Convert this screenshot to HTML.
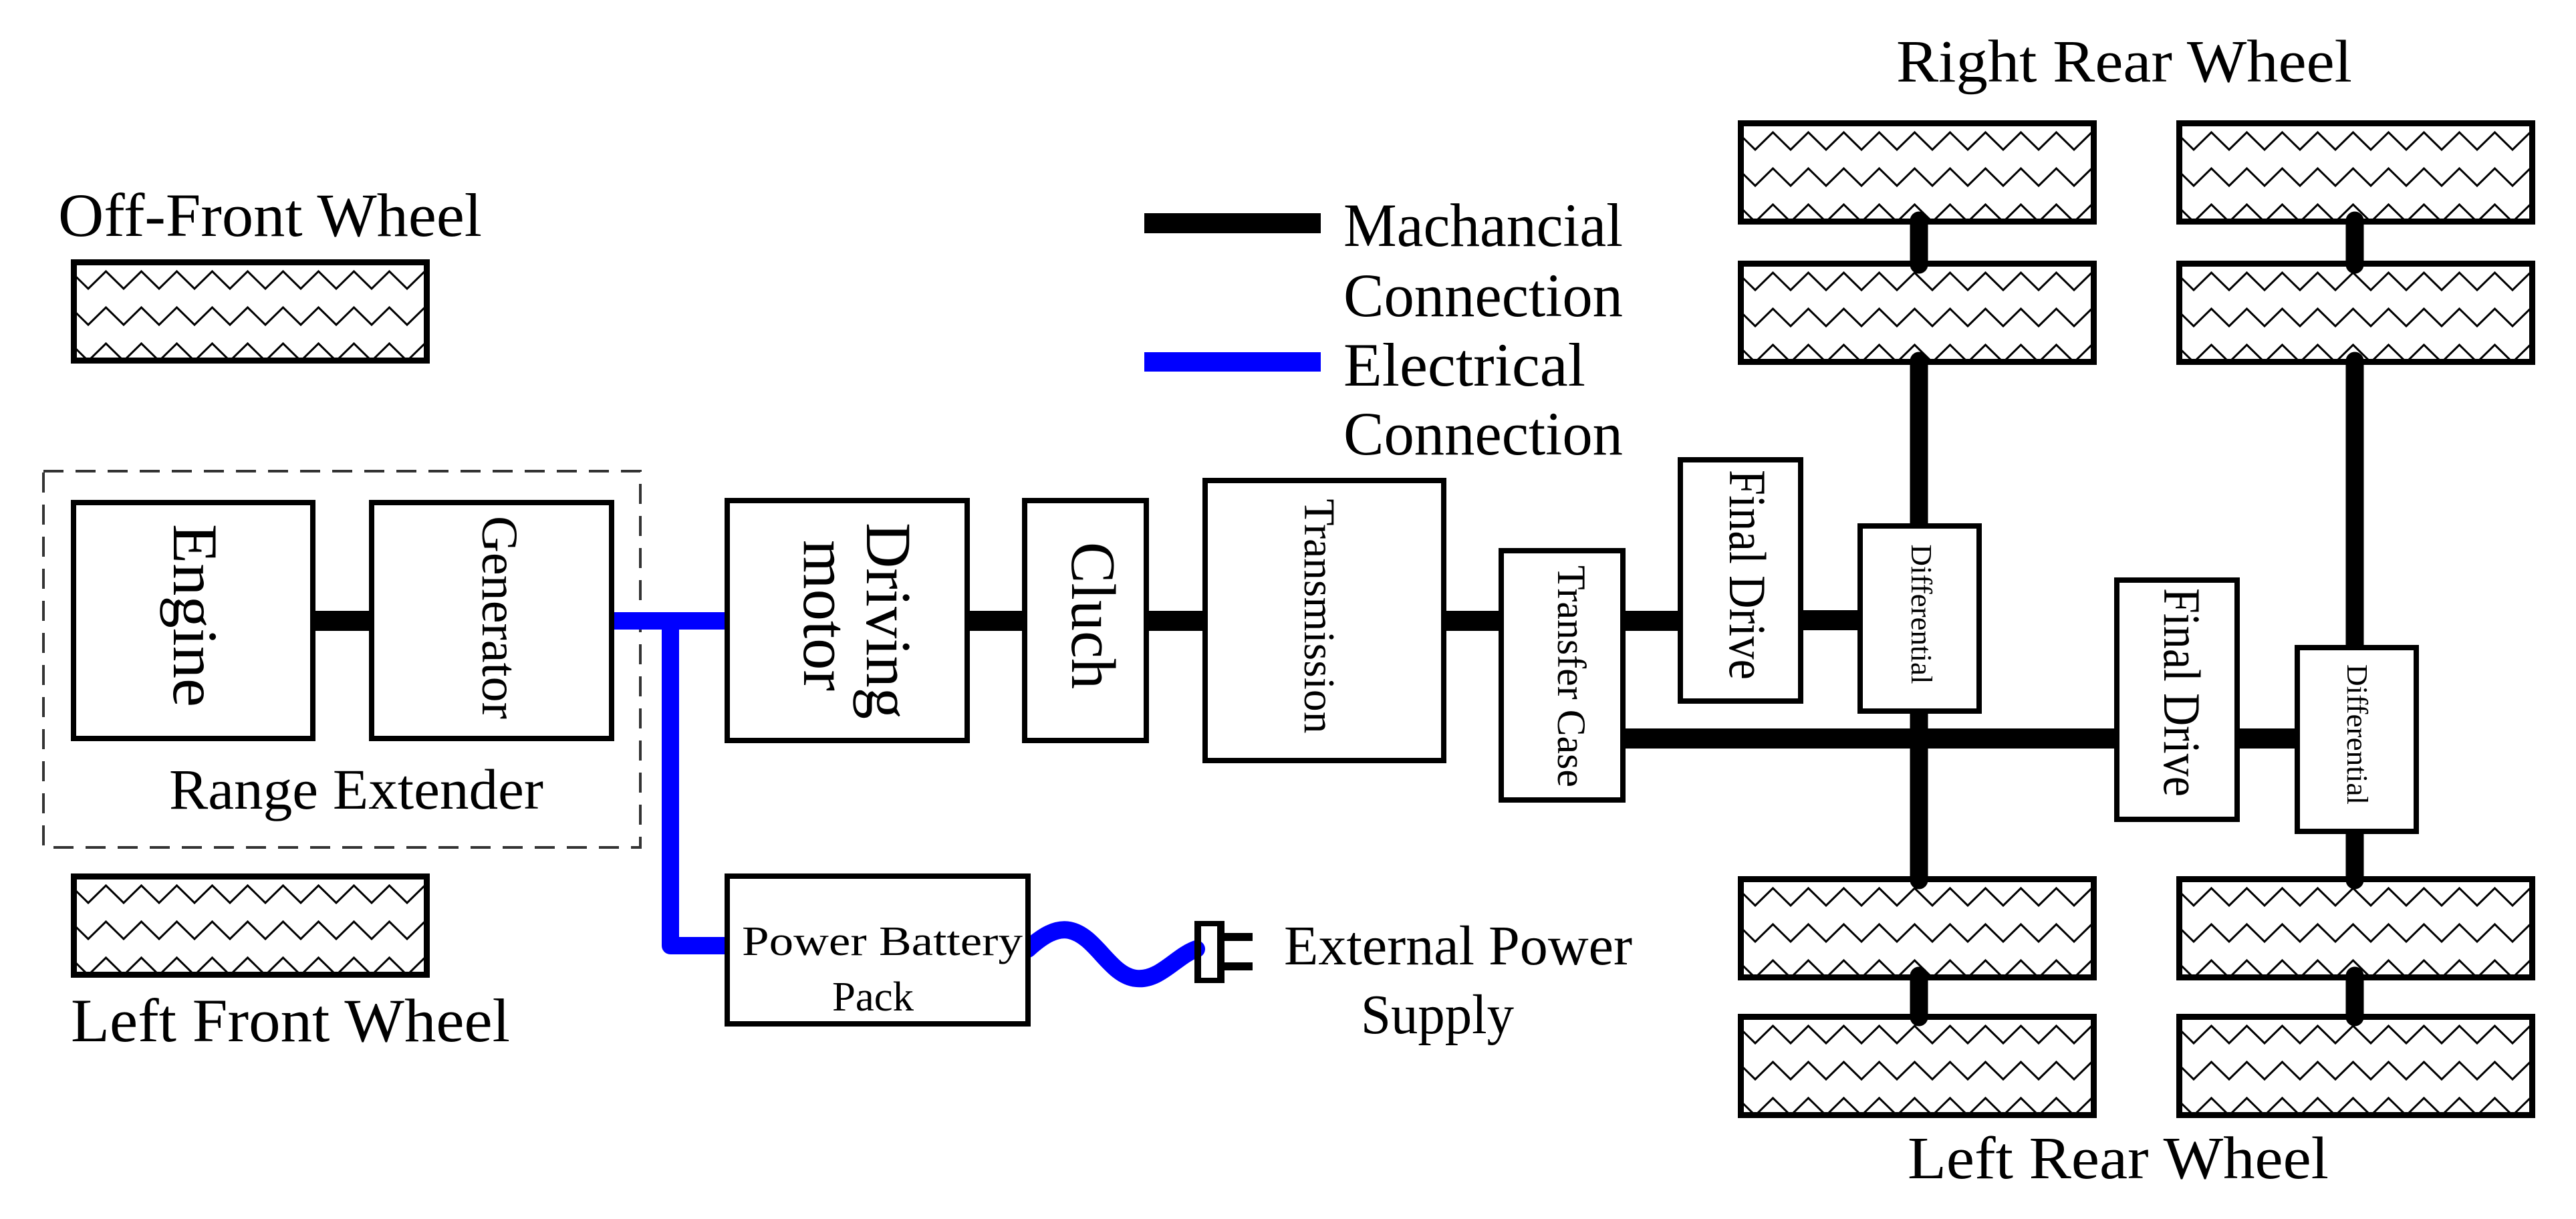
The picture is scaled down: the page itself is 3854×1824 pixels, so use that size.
<!DOCTYPE html>
<html><head><meta charset="utf-8"><style>
html,body{margin:0;padding:0;background:#fff;}
svg{display:block;}
text{font-family:"Liberation Serif",serif;fill:#000;}
</style></head><body>
<svg width="3854" height="1824" viewBox="0 0 3854 1824" xmlns="http://www.w3.org/2000/svg">
<defs>
<clipPath id="wc"><rect x="9" y="9" width="519" height="138"/></clipPath>
<g id="wheel">
  <rect x="4.5" y="4.5" width="528" height="147" fill="#fff" stroke="#000" stroke-width="9"/>
  <g clip-path="url(#wc)" fill="none" stroke="#000" stroke-width="3" stroke-linejoin="miter">
    <path d="M0,18.5 L26,44 l26.5,-26 l26.5,26 l26.5,-26 l26.5,26 l26.5,-26 l26.5,26 l26.5,-26 l26.5,26 l26.5,-26 l26.5,26 l26.5,-26 l26.5,26 l26.5,-26 l26.5,26 l26.5,-26 l26.5,26 l26.5,-26 l26.5,26 l26.5,-26 l26.5,26"/>
    <path d="M0,72.5 L26,98 l26.5,-26 l26.5,26 l26.5,-26 l26.5,26 l26.5,-26 l26.5,26 l26.5,-26 l26.5,26 l26.5,-26 l26.5,26 l26.5,-26 l26.5,26 l26.5,-26 l26.5,26 l26.5,-26 l26.5,26 l26.5,-26 l26.5,26 l26.5,-26 l26.5,26"/>
    <path d="M0,126.5 L26,152 l26.5,-26 l26.5,26 l26.5,-26 l26.5,26 l26.5,-26 l26.5,26 l26.5,-26 l26.5,26 l26.5,-26 l26.5,26 l26.5,-26 l26.5,26 l26.5,-26 l26.5,26 l26.5,-26 l26.5,26 l26.5,-26 l26.5,26 l26.5,-26 l26.5,26"/>
  </g>
</g>
</defs>

<!-- Labels -->
<text x="87" y="353" font-size="92" textLength="634" lengthAdjust="spacingAndGlyphs">Off-Front Wheel</text>
<text x="106" y="1558" font-size="92" textLength="657" lengthAdjust="spacingAndGlyphs">Left Front Wheel</text>
<text x="2837" y="122" font-size="90" textLength="682" lengthAdjust="spacingAndGlyphs">Right Rear Wheel</text>
<text x="2854" y="1763" font-size="90" textLength="630" lengthAdjust="spacingAndGlyphs">Left Rear Wheel</text>

<!-- Front wheels -->
<use href="#wheel" x="106" y="388"/>
<use href="#wheel" x="106" y="1307"/>

<!-- Rear wheels -->
<use href="#wheel" x="2600" y="180"/>
<use href="#wheel" x="2600" y="390"/>
<use href="#wheel" x="2600" y="1311"/>
<use href="#wheel" x="2600" y="1517"/>
<use href="#wheel" x="3256" y="180"/>
<use href="#wheel" x="3256" y="390"/>
<use href="#wheel" x="3256" y="1311"/>
<use href="#wheel" x="3256" y="1517"/>

<!-- Legend -->
<rect x="1712" y="319" width="264" height="30" fill="#000"/>
<rect x="1712" y="527" width="264" height="29" fill="#0000ff"/>
<text x="2010" y="368" font-size="92" textLength="418" lengthAdjust="spacingAndGlyphs">Machancial</text>
<text x="2010" y="473" font-size="92" textLength="418" lengthAdjust="spacingAndGlyphs">Connection</text>
<text x="2010" y="577" font-size="92" textLength="362" lengthAdjust="spacingAndGlyphs">Electrical</text>
<text x="2010" y="680" font-size="92" textLength="418" lengthAdjust="spacingAndGlyphs">Connection</text>

<!-- Range extender dashed box -->
<rect x="65" y="705" width="893" height="563" fill="none" stroke="#333" stroke-width="4" stroke-dasharray="30,18"/>
<text x="253" y="1210" font-size="86" textLength="560" lengthAdjust="spacingAndGlyphs">Range Extender</text>

<!-- Connections (mechanical) -->
<g stroke="#000" stroke-width="30" stroke-linecap="round" fill="none">
  <line x1="468" y1="929" x2="556" y2="929"/>
  <line x1="1447" y1="929" x2="1533" y2="929"/>
  <line x1="1715" y1="929" x2="1803" y2="929"/>
  <line x1="2160" y1="929" x2="2246" y2="929"/>
  <line x1="2428" y1="929" x2="2514" y2="929"/>
  <line x1="2694" y1="928" x2="2783" y2="928"/>
  <line x1="2428" y1="1105" x2="3167" y2="1105"/>
  <line x1="3347" y1="1105" x2="3437" y2="1105"/>
</g>
<g stroke="#000" stroke-width="27" stroke-linecap="round" fill="none">
  <line x1="2871" y1="330" x2="2871" y2="396"/>
  <line x1="2871" y1="540" x2="2871" y2="787"/>
  <line x1="2871" y1="1064" x2="2871" y2="1317"/>
  <line x1="2871" y1="1460" x2="2871" y2="1522"/>
  <line x1="3523" y1="330" x2="3523" y2="396"/>
  <line x1="3523" y1="540" x2="3523" y2="969"/>
  <line x1="3523" y1="1244" x2="3523" y2="1317"/>
  <line x1="3523" y1="1460" x2="3523" y2="1522"/>
</g>

<!-- Electrical -->
<g stroke="#0000ff" stroke-width="26" stroke-linecap="round" stroke-linejoin="round" fill="none">
  <polyline points="915,929 1090,929"/>
  <polyline points="1003,929 1003,1415 1090,1415"/>
  <path d="M1538,1420 C1560,1400 1580,1388 1600,1392 C1640,1400 1660,1460 1700,1464 C1735,1468 1760,1430 1790,1420"/>
</g>

<!-- Plug -->
<g fill="#000">
  <path d="M1787,1378 h45 v93 h-45 v-8 h34 v-77 h-34 z"/>
  <rect x="1787" y="1378" width="10" height="93"/>
  <rect x="1832" y="1396" width="42" height="12"/>
  <rect x="1832" y="1440" width="42" height="12"/>
</g>
<text x="1921" y="1443" font-size="84" textLength="521" lengthAdjust="spacingAndGlyphs">External Power</text>
<text x="2036" y="1546" font-size="84" textLength="229" lengthAdjust="spacingAndGlyphs">Supply</text>

<!-- Boxes -->
<g fill="#fff" stroke="#000" stroke-width="8">
  <rect x="110" y="752" width="358" height="353"/>
  <rect x="556" y="752" width="359" height="353"/>
  <rect x="1088" y="749" width="359" height="359"/>
  <rect x="1533" y="749" width="182" height="359"/>
  <rect x="1803" y="719" width="357" height="419"/>
  <rect x="2246" y="824" width="182" height="373"/>
  <rect x="2514" y="688" width="180" height="361"/>
  <rect x="2783" y="787" width="178" height="277"/>
  <rect x="3167" y="868" width="180" height="358"/>
  <rect x="3437" y="969" width="178" height="275"/>
  <rect x="1088" y="1311" width="450" height="221"/>
</g>

<!-- Box labels (rotated) -->
<g font-size="95">
  <text transform="translate(292,921) rotate(90)" text-anchor="middle" y="32" textLength="274" lengthAdjust="spacingAndGlyphs">Engine</text>
</g>
<text transform="translate(748,924) rotate(90)" text-anchor="middle" y="26" font-size="76" textLength="304" lengthAdjust="spacingAndGlyphs">Generator</text>
<text transform="translate(1267,929) rotate(90)" text-anchor="middle" y="-30" font-size="96" textLength="294" lengthAdjust="spacingAndGlyphs">Driving</text>
<text transform="translate(1267,921) rotate(90)" text-anchor="middle" y="64" font-size="96" textLength="226" lengthAdjust="spacingAndGlyphs">motor</text>
<text transform="translate(1636,921) rotate(90)" text-anchor="middle" y="32" font-size="94" textLength="220" lengthAdjust="spacingAndGlyphs">Cluch</text>
<text transform="translate(1974,922) rotate(90)" text-anchor="middle" y="22" font-size="66" textLength="351" lengthAdjust="spacingAndGlyphs">Transmission</text>
<text transform="translate(2351,1012) rotate(90)" text-anchor="middle" y="20" font-size="60" textLength="332" lengthAdjust="spacingAndGlyphs">Transfer Case</text>
<text transform="translate(2614,860) rotate(90)" text-anchor="middle" y="26" font-size="78" textLength="314" lengthAdjust="spacingAndGlyphs">Final Drive</text>
<text transform="translate(3264,1036) rotate(90)" text-anchor="middle" y="26" font-size="78" textLength="312" lengthAdjust="spacingAndGlyphs">Final Drive</text>
<text transform="translate(2873,919) rotate(90)" text-anchor="middle" y="13" font-size="44" textLength="209" lengthAdjust="spacingAndGlyphs">Differential</text>
<text transform="translate(3525,1099) rotate(90)" text-anchor="middle" y="13" font-size="44" textLength="210" lengthAdjust="spacingAndGlyphs">Differential</text>

<text x="1110" y="1429" font-size="62" textLength="420" lengthAdjust="spacingAndGlyphs">Power Battery</text>
<text x="1245" y="1512" font-size="62" textLength="122" lengthAdjust="spacingAndGlyphs">Pack</text>
</svg>
</body></html>
